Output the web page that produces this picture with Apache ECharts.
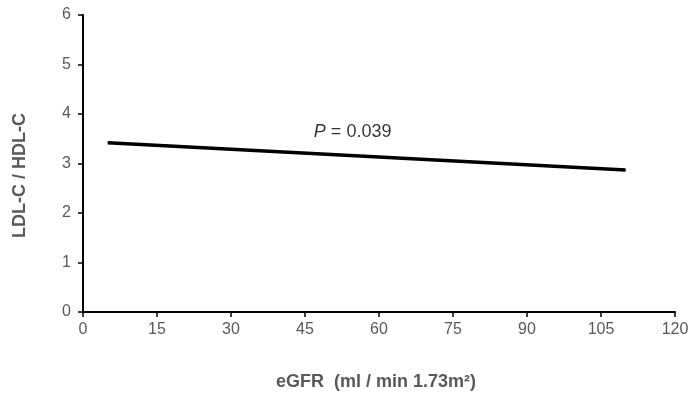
<!DOCTYPE html>
<html><head><meta charset="utf-8">
<script src="https://cdn.jsdelivr.net/npm/echarts@6/dist/echarts.min.js"></script>
<style>html,body{margin:0;padding:0;background:#fff}#c{width:695px;height:401px}</style>
</head><body><div id="c"></div>
<script>
const xTicks = [0,15,30,45,60,75,90,105,120];
const lineX = [5, 110];
const lineY = [3.42, 2.87];
const annotation = {x: 47, y: 3.64, text: '0.039'};
const xTitle = 'eGFR  (ml / min 1.73m²)';
const yTitle = 'LDL-C / HDL-C';

const chart = echarts.init(document.getElementById('c'));
const lbl = {color:'#595959', fontSize:16, fontFamily:'Liberation Sans, Arial'};
chart.setOption({
  animation:false,
  grid:{left:83, right:20, top:15, bottom:89},
  xAxis:{type:'value', min:0, max:120, interval:15,
    axisLine:{lineStyle:{color:'#000', width:2}},
    axisTick:{show:true, length:5, lineStyle:{color:'#000', width:1.5}},
    axisLabel:Object.assign({margin:10}, lbl), splitLine:{show:false}},
  yAxis:{type:'value', min:0, max:6, interval:1,
    axisLine:{show:true, lineStyle:{color:'#000', width:2}},
    axisTick:{show:true, length:5, lineStyle:{color:'#000', width:1.5}},
    axisLabel:Object.assign({margin:12}, lbl), splitLine:{show:false}},
  series:[{type:'line', data:lineX.map((x,i)=>[x,lineY[i]]), symbol:'none',
    lineStyle:{color:'#000', width:3.5}},
   {type:'scatter', data:[[annotation.x, annotation.y]], symbolSize:0,
    label:{show:true, position:'right', offset:[-6,0], fontSize:18, color:'#000',
      fontFamily:'Liberation Sans, Arial',
      formatter:'{i|P} = '+annotation.text, rich:{i:{fontStyle:'italic', fontSize:18, color:'#000', fontFamily:'Liberation Sans, Arial'}}}}],
  graphic:[
    {type:'text', x:276, y:373, style:{text:xTitle, fontSize:18, fontWeight:'bold', fill:'#595959', fontFamily:'Liberation Sans, Arial'}},
    {type:'text', rotation:Math.PI/2, x:11, y:238, style:{text:yTitle, fontSize:18, fontWeight:'bold', fill:'#595959', fontFamily:'Liberation Sans, Arial'}}
  ]
});
</script></body></html>
